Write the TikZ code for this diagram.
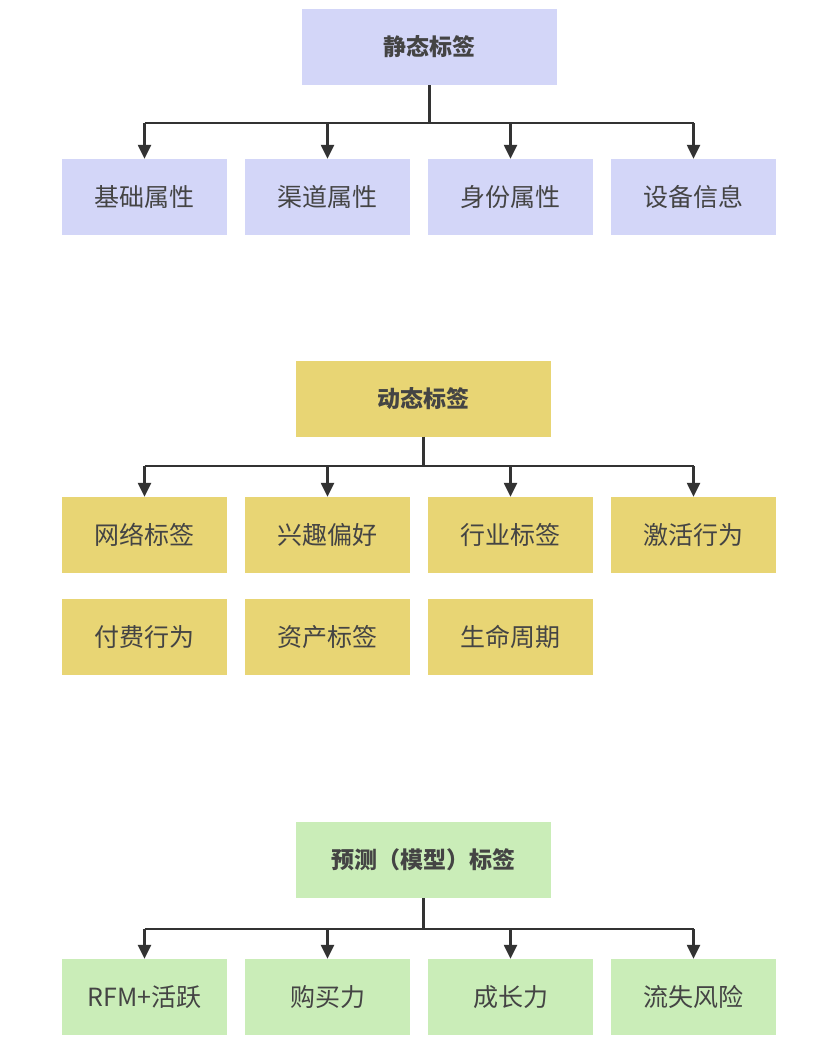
\documentclass[tikz,border=0pt]{standalone}
\usepackage{fontspec}
\setmainfont{Noto Sans CJK SC}
\usetikzlibrary{arrows.meta}
\definecolor{cb}{HTML}{D3D6F8}
\definecolor{cy}{HTML}{E8D574}
\definecolor{cg}{HTML}{CAEDB8}
\definecolor{tx}{HTML}{444444}
\begin{document}
\begin{tikzpicture}[x=1pt,y=-1pt,
  box/.style={draw=none,minimum width=165pt,minimum height=76pt,inner sep=0pt,text=tx,font=\fontsize{25}{29}\selectfont},
  head/.style={box,minimum width=255pt,font=\fontsize{23}{27}\selectfont\bfseries},
  ln/.style={draw=black!80,line width=2.4pt},
  ar/.style={ln,-{Triangle[length=14pt,width=13pt]}}]
\useasboundingbox (0,0) rectangle (822,1052);
\fill[white] (0,0) rectangle (822,1052);
% section 1
\node[head,fill=cb] (s) at (429.5,47) {静态标签};
\foreach \n/\x/\t in {a/144.5/基础属性,b/327.5/渠道属性,c/510.5/身份属性,d/693.5/设备信息}
  \node[box,fill=cb] (s\n) at (\x,197) {\t};
\coordinate (sj) at (429.5,123);
\draw[ln] (s.south) -- (sj);
\draw[ln] (144.5,123) -- (693.5,123);
\foreach \n in {a,b,c,d} \draw[ar] (s\n.north |- sj) -- (s\n.north);
% section 2
\node[head,fill=cy] (d) at (423.5,398.5) {动态标签};
\foreach \n/\x/\t in {a/144.5/网络标签,b/327.5/兴趣偏好,c/510.5/行业标签,d/693.5/激活行为}
  \node[box,fill=cy] (d\n) at (\x,535) {\t};
\foreach \n/\x/\t in {e/144.5/付费行为,f/327.5/资产标签,g/510.5/生命周期}
  \node[box,fill=cy] (d\n) at (\x,637) {\t};
\coordinate (dj) at (423.5,466);
\draw[ln] (d.south) -- (dj);
\draw[ln] (144.5,466) -- (693.5,466);
\foreach \n in {a,b,c,d} \draw[ar] (d\n.north |- dj) -- (d\n.north);
% section 3
\node[head,fill=cg] (p) at (423.5,860) {预测（模型）标签};
\foreach \n/\x/\t in {a/144.5/RFM+活跃,b/327.5/购买力,c/510.5/成长力,d/693.5/流失风险}
  \node[box,fill=cg] (p\n) at (\x,997) {\t};
\coordinate (pj) at (423.5,929);
\draw[ln] (p.south) -- (pj);
\draw[ln] (144.5,929) -- (693.5,929);
\foreach \n in {a,b,c,d} \draw[ar] (p\n.north |- pj) -- (p\n.north);
\end{tikzpicture}
\end{document}
